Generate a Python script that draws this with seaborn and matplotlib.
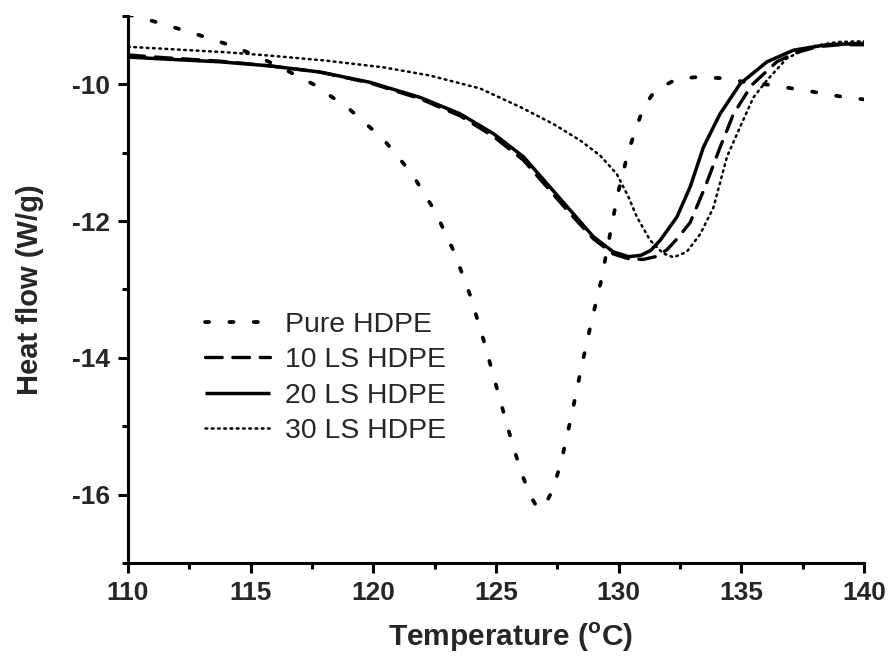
import numpy as np
import pandas as pd
import matplotlib
matplotlib.use("Agg")
import matplotlib.pyplot as plt
import seaborn as sns

# --- DSC curves (temperature in degC, heat flow in W/g) ---
pure_x = [110.0, 110.97, 112.65, 114.36, 116.06, 117.62, 119.05, 120.4, 121.56, 122.52,
          123.29, 123.94, 124.5, 125.0, 125.5, 126.0, 126.4, 126.7, 127.0, 127.35,
          127.7, 128.1, 128.5, 128.9, 129.27, 129.62, 129.96, 130.4, 131.0, 131.48,
          132.37, 133.28, 134.2, 135.07, 136.0, 136.9, 137.8, 138.7, 140.0]
pure_y = [-8.98, -9.07, -9.25, -9.45, -9.72, -10.01, -10.37, -10.80, -11.30, -11.86,
          -12.45, -13.08, -13.75, -14.4, -15.05, -15.65, -16.02, -16.2, -16.15, -15.9,
          -15.45, -14.8, -14.1, -13.45, -12.89, -12.24, -11.6, -10.97, -10.34, -10.09,
          -9.92, -9.89, -9.91, -9.96, -10.0, -10.05, -10.10, -10.16, -10.22]

ls10_x = [110.0, 111.5, 113.75, 115.8, 117.83, 119.87, 121.9, 123.53, 124.89, 126.12,
          127.07, 128.02, 128.97, 129.78, 130.4, 131.0, 131.5, 131.96, 132.4, 132.91,
          133.52, 134.13, 134.68, 135.42, 136.44, 137.2, 138.07, 139.0, 140.0]
ls10_y = [-9.57, -9.61, -9.66, -9.73, -9.82, -9.98, -10.21, -10.46, -10.76, -11.11,
          -11.50, -11.89, -12.26, -12.48, -12.55, -12.56, -12.52, -12.42, -12.25, -12.02,
          -11.50, -10.92, -10.43, -10.01, -9.67, -9.54, -9.45, -9.42, -9.42]

ls20_x = [110.0, 111.5, 113.75, 115.8, 117.83, 119.87, 121.9, 123.53, 124.89, 126.12,
          127.07, 128.02, 128.97, 129.78, 130.4, 130.9, 131.3, 131.69, 132.37, 132.91,
          133.45, 134.13, 134.95, 136.04, 137.12, 138.48, 140.0]
ls20_y = [-9.60, -9.63, -9.67, -9.73, -9.82, -9.97, -10.19, -10.43, -10.72, -11.06,
          -11.45, -11.84, -12.23, -12.45, -12.52, -12.50, -12.43, -12.28, -11.94, -11.50,
          -10.92, -10.43, -9.99, -9.67, -9.50, -9.42, -9.40]

ls30_x = [110.0, 112.0, 114.0, 115.8, 118.0, 120.4, 122.3, 124.35, 125.98, 127.34,
          128.43, 129.24, 129.92, 130.4, 130.74, 131.28, 131.8, 132.23, 132.77, 133.32,
          133.86, 134.41, 134.95, 135.49, 136.04, 136.85, 137.8, 138.9, 140.0]
ls30_y = [-9.45, -9.49, -9.53, -9.58, -9.65, -9.75, -9.87, -10.06, -10.33, -10.58,
          -10.82, -11.04, -11.31, -11.65, -11.94, -12.28, -12.47, -12.53, -12.45, -12.19,
          -11.80, -11.06, -10.62, -10.19, -9.94, -9.62, -9.45, -9.38, -9.37]

labels = ["Pure HDPE", "10 LS HDPE", "20 LS HDPE", "30 LS HDPE"]

sns.set_style("ticks")
plt.rcParams["font.family"] = ["Liberation Sans", "DejaVu Sans"]
plt.rcParams["axes.unicode_minus"] = False
plt.rcParams["mathtext.fontset"] = "custom"
plt.rcParams["mathtext.bf"] = "Liberation Sans:bold"

fig = plt.figure(figsize=(8.89, 6.59), dpi=100)
ax = fig.add_axes([0.144, 0.1457, 0.828, 0.830])

# (x, y, linewidth, dash pattern in units of lw)
series = [
    (pure_x, pure_y, 2.7, (1.1, 5.4)),
    (ls10_x, ls10_y, 2.4, (5.0, 3.2)),
    (ls20_x, ls20_y, 2.5, None),
    (ls30_x, ls30_y, 1.8, (0.7, 1.8)),
]
for (xs, ys, lw, dash), lab in zip(series, labels):
    sns.lineplot(x=xs, y=ys, ax=ax, color="black", lw=lw, sort=False,
                 estimator=None, label=lab)
    line = ax.lines[-1]
    line.set_solid_capstyle("butt")
    if dash is not None:
        line.set_dashes(dash)
        line.set_dash_capstyle("round")

ax.set_xlim(110, 140)
ax.set_ylim(-17, -9)
ax.set_xticks(np.arange(110, 141, 5))
ax.set_xticks(np.arange(112.5, 140, 5), minor=True)
ax.set_yticks([-16, -14, -12, -10])
ax.set_yticks([-17, -15, -13, -11, -9], minor=True)

for s in ["top", "right"]:
    ax.spines[s].set_visible(False)
for s in ["left", "bottom"]:
    ax.spines[s].set_linewidth(2.2)
    ax.spines[s].set_color("black")

ax.tick_params(which="major", direction="out", length=7, width=2.2, color="black", pad=6)
ax.tick_params(which="minor", direction="out", length=4.5, width=2.2, color="black")
for t in ax.get_xticklabels() + ax.get_yticklabels():
    t.set_fontweight("bold")
    t.set_fontsize(19)

ax.set_xlabel(r"Temperature ($^{\mathbf{o}}$C)", weight="bold", size=21.5)
ax.xaxis.set_label_coords(0.52, -0.105)
ax.set_ylabel("Heat flow (W/g)", weight="bold", size=21, labelpad=20)

ax.legend(loc="upper left", bbox_to_anchor=(0.104, 0.459), frameon=False, fontsize=20.4,
          handlelength=2.3, handletextpad=0.55, labelspacing=0.33, borderpad=0,
          borderaxespad=0)

fig.savefig("out.png", dpi=100)
